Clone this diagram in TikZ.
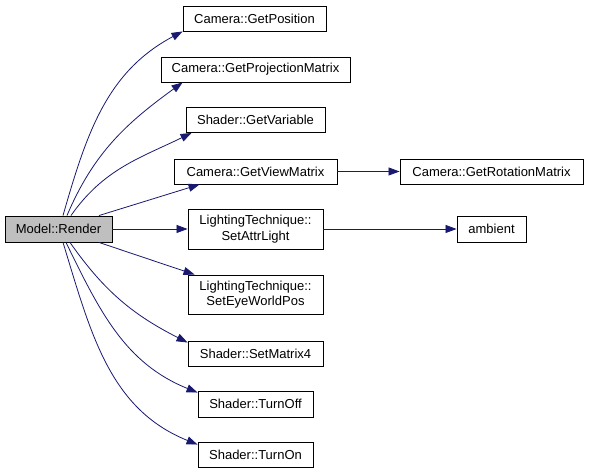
\documentclass[tikz,border=0pt]{standalone}
\usepackage{fontspec}
\setmainfont{Liberation Sans}
\usetikzlibrary{arrows.meta}
\definecolor{edgeblue}{HTML}{191970}
\definecolor{rootgray}{HTML}{BFBFBF}
\tikzset{
  fn/.style={draw=black, line width=0.9pt, fill=white, inner sep=0pt, align=center,
    minimum height=25pt, font=\fontsize{13}{15.5}\selectfont},
  root/.style={fn, fill=rootgray},
  edge/.style={draw=edgeblue, line width=0.8pt, -{Triangle[length=11pt,width=8pt]}},
}
\begin{document}
\begin{tikzpicture}[x=1pt,y=1pt]
\useasboundingbox (0,0) rectangle (589,473);
\node[root, minimum width=107pt, minimum height=26pt] (render) at (58.5,244) {Model::Render};
\node[fn, minimum width=143pt] (pos) at (254.5,454.5) {Camera::GetPosition};
\node[fn, minimum width=189pt] (proj) at (255.5,403.5) {Camera::GetProjectionMatrix};
\node[fn, minimum width=139pt] (var) at (255.5,353) {Shader::GetVariable};
\node[fn, minimum width=163pt] (view) at (255.5,301.5) {Camera::GetViewMatrix};
\node[fn, minimum width=183pt] (rot) at (491.5,301.5) {Camera::GetRotationMatrix};
\node[fn, minimum width=135pt, minimum height=40pt] (attr) at (255.5,244) {LightingTechnique::\\SetAttrLight};
\node[fn, minimum width=69pt, minimum height=26pt] (amb) at (491.5,244) {ambient};
\node[fn, minimum width=135pt, minimum height=39pt] (eye) at (255.5,178.5) {LightingTechnique::\\SetEyeWorldPos};
\node[fn, minimum width=135pt] (mat) at (255.5,119.5) {Shader::SetMatrix4};
\node[fn, minimum width=115pt, minimum height=26pt] (off) at (255.5,69) {Shader::TurnOff};
\node[fn, minimum width=115pt] (on) at (255.5,18.5) {Shader::TurnOn};

\draw[edge] ([xshift=4.5pt]render.north) to[out=74,in=208] (pos.south west);
\draw[edge] ([xshift=8.5pt]render.north) to[out=67,in=216] ([xshift=22pt]proj.south west);
\draw[edge] ([xshift=12.5pt]render.north) to[out=55,in=206] ([xshift=6pt]var.south west);
\draw[edge] ([xshift=40.5pt]render.north) -- ([xshift=26pt]view.south west);
\draw[edge] (render.east) -- (attr.west);
\draw[edge] ([xshift=40.5pt]render.south) -- ([xshift=7pt]eye.north west);
\draw[edge] ([xshift=11.5pt]render.south) to[out=-55,in=153] ([yshift=-2pt]mat.north west);
\draw[edge] ([xshift=7.5pt]render.south) to[out=-64,in=158] ([yshift=-2pt]off.north west);
\draw[edge] ([xshift=4.5pt]render.south) to[out=-73,in=158] ([yshift=-3pt]on.north west);
\draw[edge] (view.east) -- (rot.west);
\draw[edge] (attr.east) -- (amb.west);
\end{tikzpicture}
\end{document}
